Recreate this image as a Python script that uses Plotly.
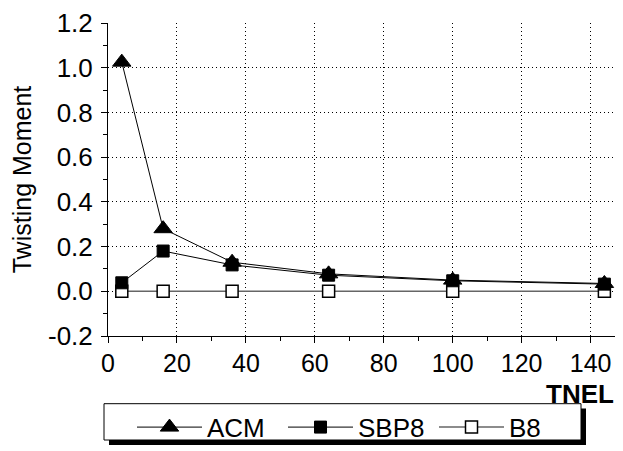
import plotly.graph_objects as go

tnel = [4, 16, 36, 64, 100, 144]
acm = [1.025, 0.28, 0.13, 0.078, 0.05, 0.035]
sbp8 = [0.038, 0.18, 0.118, 0.072, 0.047, 0.032]
b8 = [0, 0, 0, 0, 0, 0]

x_ticks = [0, 20, 40, 60, 80, 100, 120, 140]
x_grid = [20, 40, 60, 80, 100, 120, 140]
y_ticks = [-0.2, 0.0, 0.2, 0.4, 0.6, 0.8, 1.0, 1.2]
y_tick_text = ["-0.2", "0.0", "0.2", "0.4", "0.6", "0.8", "1.0", "1.2"]
y_grid = [0.0, 0.2, 0.4, 0.6, 0.8, 1.0]

FONT = "Liberation Sans, Arial, sans-serif"

# page body has 8px default margin -> figure placed at (8,8) in the window
W, H = 615, 443
L, T, R, B = 100, 15, 0, 109


def px_x(win_x):
    return (win_x - 8 - L) / (W - L - R)


def px_y(win_y):
    return (H - B - (win_y - 8)) / (H - T - B)


fig = go.Figure()
fig.add_trace(go.Scatter(x=tnel, y=b8, name="B8", mode="lines+markers",
                         line=dict(color="#666666", width=1.5),
                         marker=dict(symbol="square", size=12, color="white",
                                     line=dict(color="black", width=1.5))))
fig.add_trace(go.Scatter(x=tnel, y=sbp8, name="SBP8", mode="lines+markers",
                         line=dict(color="black", width=1),
                         marker=dict(symbol="square", size=12, color="black",
                                     line=dict(color="black", width=1))))
fig.add_trace(go.Scatter(x=tnel, y=acm, name="ACM", mode="lines+markers",
                         line=dict(color="black", width=1),
                         marker=dict(symbol="triangle-up", size=16, color="black",
                                     line=dict(color="black", width=1))))

# grid-only overlay axes
fig.add_trace(go.Scatter(x=[None], y=[None], xaxis="x2", yaxis="y2", showlegend=False))

fig.update_layout(
    width=W, height=H,
    margin=dict(l=L, r=R, t=T, b=B),
    paper_bgcolor="white", plot_bgcolor="white",
    font=dict(family=FONT, size=26, color="black"),
    showlegend=True,
    legend=dict(orientation="h", traceorder="reversed",
                x=px_x(132), xanchor="left", y=px_y(411), yanchor="top",
                bgcolor="rgba(0,0,0,0)", borderwidth=0,
                font=dict(family=FONT, size=26), itemwidth=65,
                entrywidth=71, tracegroupgap=0),
    xaxis=dict(range=[0, 149.4], tickvals=x_ticks, ticks="outside", ticklen=6,
               tickcolor="black", showline=True, linecolor="black", linewidth=1,
               showgrid=False, zeroline=False, tickfont=dict(size=25),
               ticklabelstandoff=-1,
               minor=dict(dtick=10, tick0=0, ticks="outside", ticklen=4, tickcolor="black"),
               layer="above traces", automargin=False),
    yaxis=dict(range=[-0.2, 1.2], tickvals=y_ticks, ticktext=y_tick_text,
               ticks="outside", ticklen=6, tickcolor="black", showline=True,
               linecolor="black", linewidth=1, showgrid=False, zeroline=False,
               tickfont=dict(size=26), automargin=False, ticklabelstandoff=3,
               minor=dict(dtick=0.1, tick0=0, ticks="outside", ticklen=4, tickcolor="black"),
               title=dict(text="Twisting Moment", font=dict(size=25), standoff=18)),
    xaxis2=dict(overlaying="x", range=[0, 149.4], tickvals=x_grid,
                showticklabels=False, ticks="", showgrid=True, gridcolor="black",
                griddash="1px,3px", gridwidth=1, zeroline=False, showline=False),
    yaxis2=dict(overlaying="y", range=[-0.2, 1.2], tickvals=y_grid,
                showticklabels=False, ticks="", showgrid=True, gridcolor="black",
                griddash="1px,3px", gridwidth=1, zeroline=False, showline=False),
)

# x-axis title TNEL (bold, right side below tick labels)
fig.add_annotation(text="<b>TNEL</b>", xref="paper", yref="paper",
                   x=px_x(616), y=px_y(401),
                   xanchor="right", yanchor="middle", showarrow=False,
                   font=dict(family=FONT, size=26))

# legend frame with drop shadow
fig.add_shape(type="rect", xref="paper", yref="paper",
              x0=px_x(109), x1=px_x(586), y0=px_y(453), y1=px_y(416),
              fillcolor="black", line=dict(width=0), layer="above")
fig.add_shape(type="rect", xref="paper", yref="paper",
              x0=px_x(104), x1=px_x(581), y0=px_y(448), y1=px_y(411),
              fillcolor="white", line=dict(color="black", width=1), layer="above")

fig.write_html("out.html")
